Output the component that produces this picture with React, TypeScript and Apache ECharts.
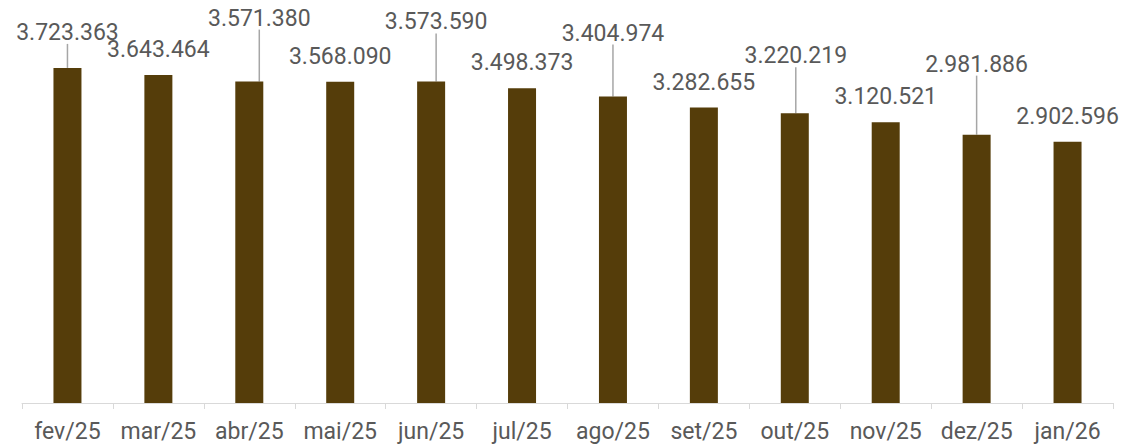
import React, { useEffect, useRef } from "react";
import * as echarts from "echarts";

const categories = ["fev/25", "mar/25", "abr/25", "mai/25", "jun/25", "jul/25", "ago/25", "set/25", "out/25", "nov/25", "dez/25", "jan/26"];
const values = [3723363, 3643464, 3571380, 3568090, 3573590, 3498373, 3404974, 3282655, 3220219, 3120521, 2981886, 2902596];
const labelShift = [[0, -10], [0, 0], [10, -38], [0, 0], [5, -34], [0, 0], [0, -38], [0, 0], [1, -32], [0, 0], [0, -45], [0, 0]];
const hasLeader = [true, false, true, false, true, false, true, false, true, false, true, false];

const fmt = (v: number) => String(v).replace(/\B(?=(\d{3})+(?!\d))/g, ".");

export default function App() {
  const ref = useRef<HTMLDivElement>(null);
  useEffect(() => {
    document.body.style.margin = "0";
    const chart = echarts.init(ref.current!, null, { renderer: "svg" });
    chart.setOption({
      animation: false,
      textStyle: { fontFamily: "Roboto" },
      grid: { left: 22, right: 14, top: 43, bottom: 43 },
      xAxis: {
        type: "category",
        data: categories,
        boundaryGap: true,
        axisLine: { lineStyle: { color: "#d9d9d9", width: 1 } },
        axisTick: { show: true, length: 6, lineStyle: { color: "#d9d9d9" } },
        axisLabel: { color: "#595959", fontSize: 23, margin: 17, interval: 0, fontFamily: "Roboto" },
      },
      yAxis: {
        type: "value",
        min: 0,
        max: 4000000,
        show: false,
        splitLine: { show: false },
      },
      series: [
        {
          type: "bar",
          barWidth: 28,
          data: values.map((v, i) => ({
            value: v,
            labelLine: { show: hasLeader[i] },
          })),
          itemStyle: { color: "#553D0A" },
          label: {
            show: true,
            position: "top",
            distance: 6,
            padding: [0, 0, 8, 0],
            color: "#595959",
            fontSize: 23,
            fontFamily: "Roboto",
            formatter: (p: any) => fmt(p.value),
          },
          labelLine: { show: false, lineStyle: { color: "#a6a6a6", width: 1.5 } },
          labelLayout: (p: any) => ({ dx: labelShift[p.dataIndex][0], dy: labelShift[p.dataIndex][1] }),
        },
      ],
    });
    return () => chart.dispose();
  }, []);
  return <div ref={ref} style={{ width: "100vw", height: "100vh" }} />;
}
